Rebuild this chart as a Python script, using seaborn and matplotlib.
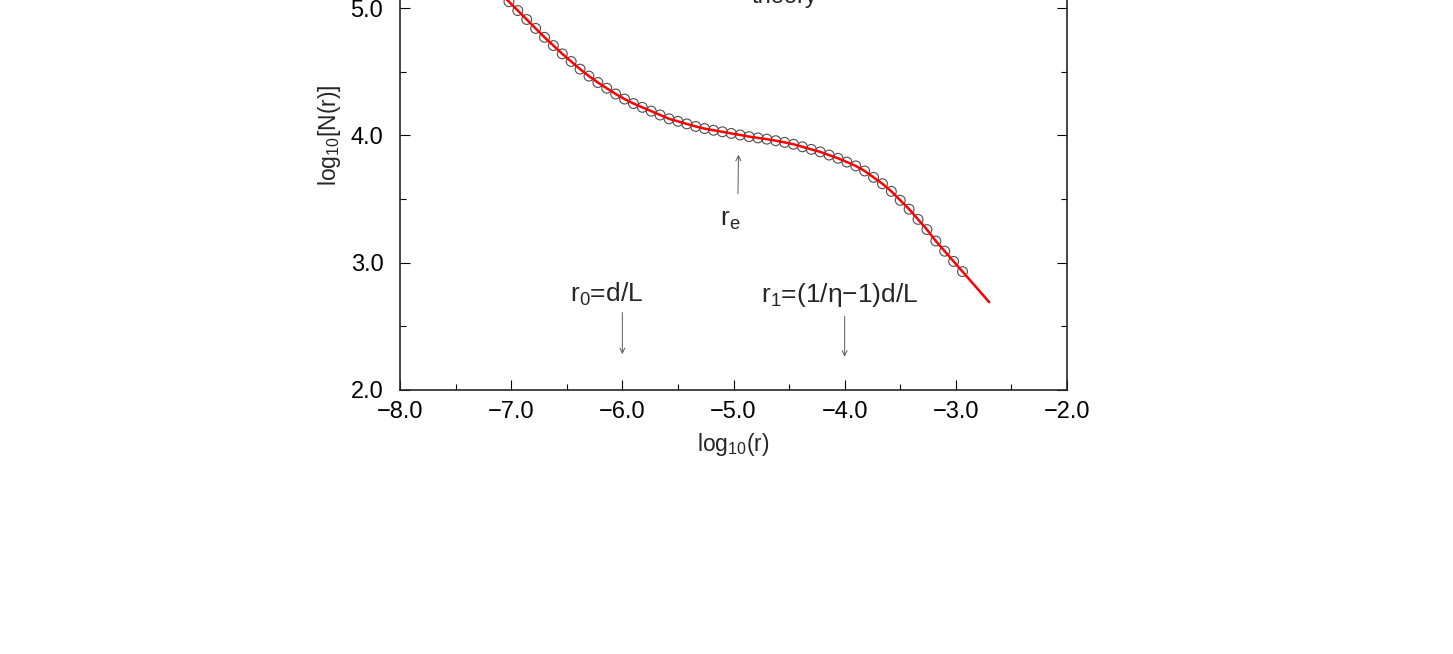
import matplotlib
matplotlib.use("Agg")
import matplotlib.pyplot as plt
from matplotlib.ticker import MultipleLocator, FuncFormatter
import seaborn as sns

# simulation points (open circles)
sim_x = [-7.26, -7.18, -7.10, -7.02, -6.94, -6.86, -6.78, -6.70, -6.62, -6.54,
         -6.46, -6.38, -6.30, -6.22, -6.14, -6.06, -5.98, -5.90, -5.82, -5.74,
         -5.66, -5.58, -5.50, -5.42, -5.34, -5.26, -5.18, -5.10, -5.02, -4.94,
         -4.86, -4.78, -4.70, -4.62, -4.54, -4.46, -4.38, -4.30, -4.22, -4.14,
         -4.06, -3.98, -3.90, -3.82, -3.74, -3.66, -3.58, -3.50, -3.42, -3.34,
         -3.26, -3.18, -3.10, -3.02, -2.94]
sim_y = [5.26, 5.19, 5.12, 5.05, 4.98, 4.91, 4.84, 4.77, 4.705, 4.64,
         4.58, 4.52, 4.465, 4.415, 4.37, 4.325, 4.285, 4.25, 4.22, 4.19,
         4.16, 4.13, 4.11, 4.09, 4.07, 4.053, 4.04, 4.028, 4.015, 4.003,
         3.99, 3.98, 3.97, 3.958, 3.945, 3.93, 3.91, 3.89, 3.87, 3.845,
         3.82, 3.79, 3.76, 3.72, 3.67, 3.62, 3.56, 3.49, 3.42, 3.34,
         3.26, 3.17, 3.09, 3.01, 2.93]

# theory curve (red line), runs a little past the last point
theory_x = sim_x + [-2.86, -2.78, -2.70]
theory_y = sim_y + [2.85, 2.77, 2.69]

x_ticks = [-8.0, -7.0, -6.0, -5.0, -4.0, -3.0, -2.0]
y_ticks = [2.0, 3.0, 4.0, 5.0]

sns.set_theme(style="ticks")
plt.rcParams.update({
    "font.family": ["Liberation Sans", "DejaVu Sans"],
    "mathtext.fontset": "custom",
    "mathtext.rm": "Liberation Sans",
    "mathtext.it": "Liberation Sans:italic",
    "mathtext.bf": "Liberation Sans:bold",
    "mathtext.default": "regular",
    "axes.linewidth": 1.2,
})

fig = plt.figure(figsize=(14.53, 6.54), dpi=100)
# the original picture is cut off at the top, so the axes run past the figure edge
ax = fig.add_axes([400 / 1453, 264 / 654, 667 / 1453, 509.3 / 654])

sns.scatterplot(x=sim_x, y=sim_y, ax=ax, marker="o", s=50,
                facecolor="none", edgecolor="0.3", linewidth=0.8, zorder=2)
sns.lineplot(x=theory_x, y=theory_y, ax=ax, color="red", linewidth=1.8,
             sort=False, zorder=3)

ax.set_xlim(-8, -2)
ax.set_ylim(2, 6)
ax.set_xticks(x_ticks)
ax.set_yticks(y_ticks)
ax.xaxis.set_minor_locator(MultipleLocator(0.5))
ax.yaxis.set_minor_locator(MultipleLocator(0.5))
fmt = FuncFormatter(lambda v, p: f"{v:.1f}".replace("-", "\u2212"))
ax.xaxis.set_major_formatter(fmt)
ax.yaxis.set_major_formatter(fmt)
ax.tick_params(which="both", direction="in", top=True, right=True,
               width=0.8, colors="black", labelsize=17)
ax.tick_params(which="major", length=7)
ax.tick_params(which="minor", length=4)
ax.tick_params(axis="x", pad=8)
ax.tick_params(axis="y", pad=12)

ax.set_xlabel("log$_{10}$(r)", fontsize=16.5)
ax.set_ylabel("log$_{10}$[N(r)]", fontsize=16.5)
ax.xaxis.set_label_coords(0.5, -0.08)
ax.yaxis.set_label_coords(-0.085, 0.5)

# legend entry that sits just inside the cropped top edge
ax.text(-4.54, 5.04, "theory", ha="center", va="baseline", fontsize=17)

# annotations
arrow = dict(arrowstyle="->", color="0.35", lw=0.7, mutation_scale=9)
ax.annotate("", xy=(-6.0, 2.26), xytext=(-6.0, 2.63), arrowprops=arrow)
ax.annotate("", xy=(-4.0, 2.24), xytext=(-4.0, 2.60), arrowprops=arrow)
ax.annotate("", xy=(-4.955, 3.87), xytext=(-4.96, 3.52), arrowprops=arrow)
ax.text(-6.14, 2.693, "r$_0$=d/L", ha="center", va="baseline", fontsize=19)
ax.text(-4.04, 2.693, "r$_1$=(1/η\u22121)d/L", ha="center", va="baseline", fontsize=19)
ax.text(-5.03, 3.29, "r$_e$", ha="center", va="baseline", fontsize=19)

fig.savefig("out.png", dpi=100)
plt.close(fig)
